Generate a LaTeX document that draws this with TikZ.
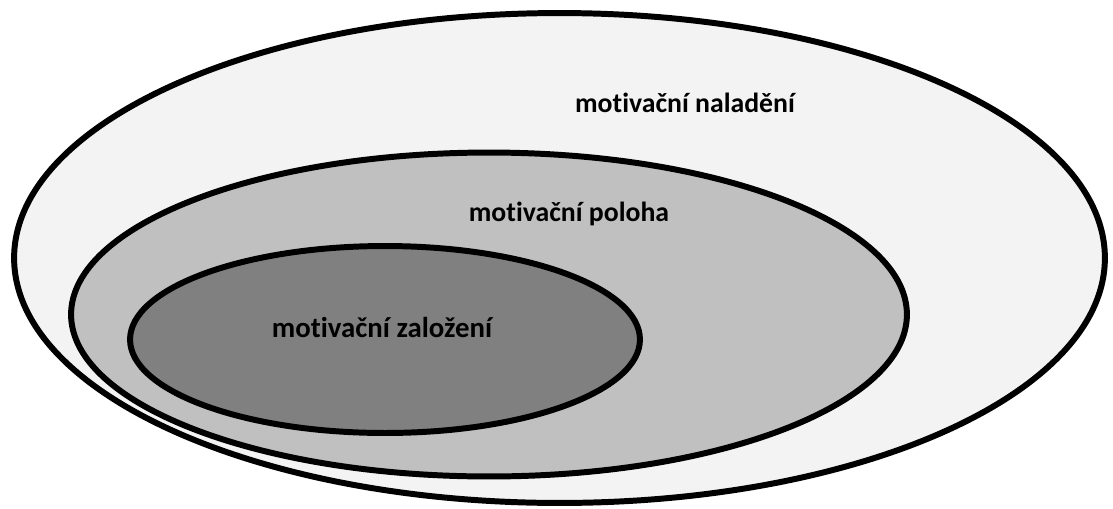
\documentclass[tikz,border=0pt]{standalone}
\usepackage{fontspec}
\setmainfont{Carlito}[Ligatures=NoCommon]
\usetikzlibrary{shapes.geometric}

\tikzstyle{zone} = [ellipse, draw=black, line width=3.4pt, inner sep=0pt]
\tikzstyle{zonetext} = [font=\bfseries\fontsize{15.8}{18}\selectfont, text=black]

\begin{document}
\begin{tikzpicture}[x=0.02cm, y=-0.02cm]
\useasboundingbox [fill=white] (0,0) rectangle (1113,508);

\node (naladeni) [zone, fill={rgb,255:red,243;green,243;blue,243}, minimum width=21.82cm, minimum height=9.8cm] at (559.5,258) {};
\node (poloha) [zone, fill={rgb,255:red,192;green,192;blue,192}, minimum width=16.72cm, minimum height=6.48cm] at (489,314.5) {};
\node (zalozeni) [zone, fill={rgb,255:red,128;green,128;blue,128}, minimum width=10.2cm, minimum height=3.74cm] at (385,339.5) {};

\node (t1) [zonetext] at (685,103) {motivační naladění};
\node (t2) [zonetext] at (569,214) {motivační poloha};
\node (t3) [zonetext, font=\bfseries\fontsize{16.4}{18}\selectfont] at (382,327) {motivační založení};

\end{tikzpicture}
\end{document}
